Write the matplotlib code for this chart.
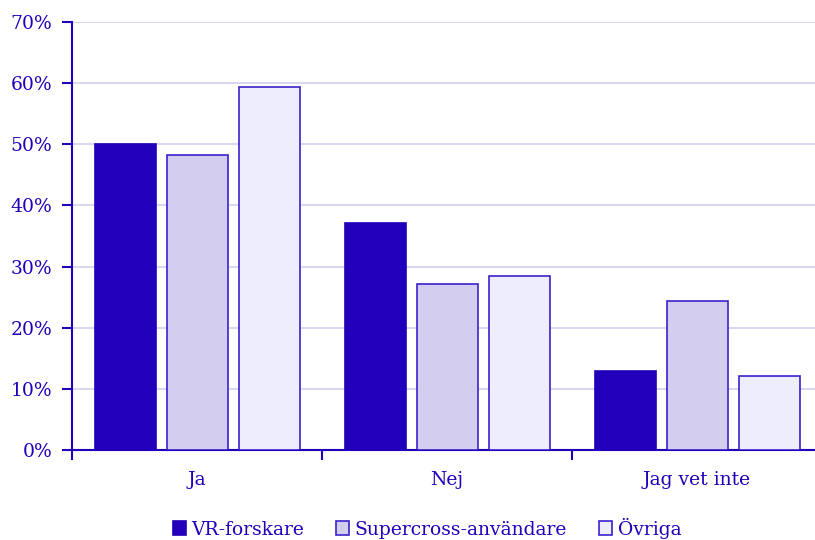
import matplotlib
matplotlib.use("Agg")
import matplotlib.pyplot as plt
import numpy as np
from matplotlib.patches import Patch

categories = ["Ja", "Nej", "Jag vet inte"]
series_names = ["VR-forskare", "Supercross-användare", "Övriga"]
vr = [50.0, 37.1, 12.9]
supercross = [48.3, 27.2, 24.4]
ovriga = [59.3, 28.5, 12.1]
yticks = [0, 10, 20, 30, 40, 50, 60, 70]

fills = ["#2200bb", "#d3cdf0", "#ededfb"]
edges = ["#2200bb", "#3a22cc", "#3a22cc"]
txt = "#2200bb"

plt.rcParams['font.family'] = ['DejaVu Serif']
fig = plt.figure(figsize=(8.15, 5.4), dpi=100)
ax = fig.add_axes([72/815, 90/540, 750/815, 428/540])

x = np.arange(len(categories))
offs = [-0.288, 0.0, 0.29]
w = 0.244
for vals, off, fc, ec in zip([vr, supercross, ovriga], offs, fills, edges):
    ax.bar(x + off, vals, width=w, color=fc, edgecolor=ec, linewidth=1.2, zorder=3)

ax.set_xlim(-0.5, 2.5)
ax.set_ylim(0, 70)
ax.set_yticks(yticks)
ax.set_yticklabels([f"{t}%" for t in yticks])
ax.yaxis.grid(True, color="#d8d8f0", linewidth=1.5, zorder=0)
ax.set_axisbelow(True)

ax.set_xticks([-0.5, 0.5, 1.5])
ax.set_xticklabels([])
ax.set_xticks(x, minor=True)
ax.set_xticklabels(categories, minor=True)
ax.tick_params(axis='x', which='minor', length=0, pad=15, labelsize=13.5, labelcolor=txt)
ax.tick_params(axis='x', which='major', length=7, width=1.5, color=txt)
ax.tick_params(axis='y', length=7, width=1.5, color=txt, labelsize=13.5, labelcolor=txt, pad=7)

for s in ['top', 'right']:
    ax.spines[s].set_visible(False)
for s in ['left', 'bottom']:
    ax.spines[s].set_color(txt)
    ax.spines[s].set_linewidth(1.5)

handles = [Patch(facecolor=fc, edgecolor=ec, linewidth=1.2) for fc, ec in zip(fills, edges)]
leg = fig.legend(handles, series_names, loc='center', bbox_to_anchor=(427/815, 1 - 528/540),
                 ncol=3, frameon=False, fontsize=13.5, handlelength=0.7, handleheight=0.7,
                 handletextpad=0.3, columnspacing=1.7)
for t in leg.get_texts():
    t.set_color(txt)

fig.savefig("out.png", dpi=100)
